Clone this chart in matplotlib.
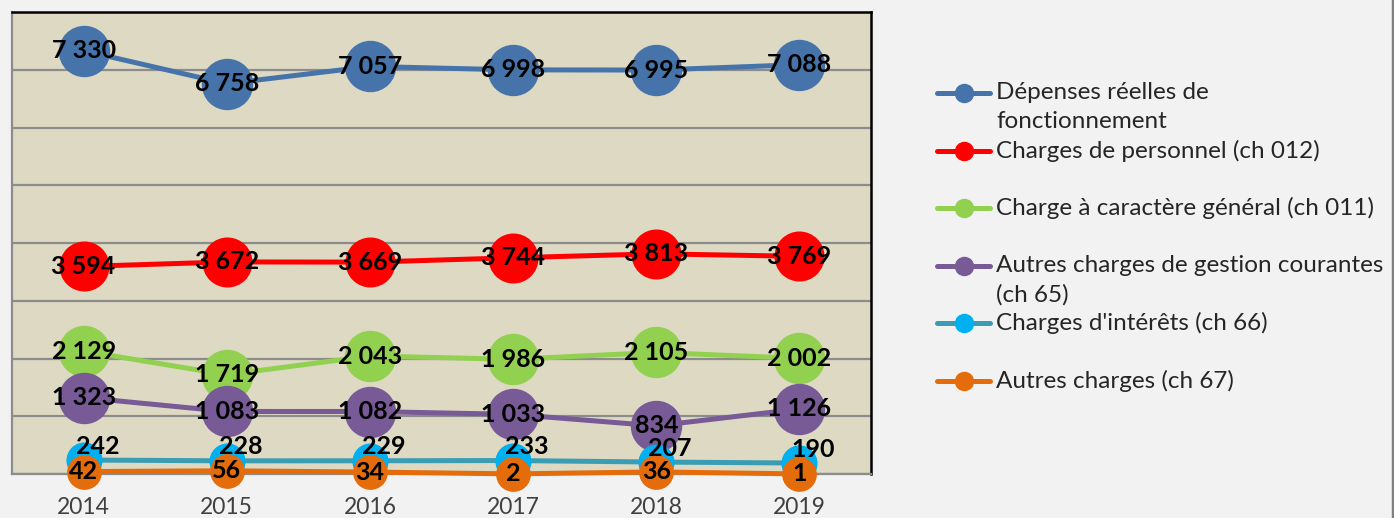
import matplotlib
matplotlib.use('Agg')
import matplotlib.pyplot as plt
from matplotlib.lines import Line2D

plt.rcParams['font.family'] = ['Lato', 'DejaVu Sans']

# données (k€)
years = ['2014', '2015', '2016', '2017', '2018', '2019']
depenses_reelles = [7330, 6758, 7057, 6998, 6995, 7088]
charges_personnel = [3594, 3672, 3669, 3744, 3813, 3769]
charges_generales = [2129, 1719, 2043, 1986, 2105, 2002]
autres_gestion = [1323, 1083, 1082, 1033, 834, 1126]
charges_interets = [242, 228, 229, 233, 207, 190]
autres_charges = [42, 56, 34, 2, 36, 1]

labels = ['Dépenses réelles de\nfonctionnement',
          'Charges de personnel (ch 012)',
          'Charge à caractère général (ch 011)',
          'Autres charges de gestion courantes\n(ch 65)',
          "Charges d'intérêts (ch 66)",
          'Autres charges (ch 67)']

series = [depenses_reelles, charges_personnel, charges_generales,
          autres_gestion, charges_interets, autres_charges]
# (couleur ligne, couleur marqueur, taille marqueur, décalage étiquette en points)
styles = [('#4674AA', '#4674AA', 36, (0, 0)),
          ('#FF0000', '#FF0000', 35, (0, 0)),
          ('#92D050', '#92D050', 36, (0, 0)),
          ('#775A96', '#775A96', 36, (0, 0)),
          ('#3A9DB4', '#00B0F0', 25, (10, 10)),
          ('#E46C0A', '#E46C0A', 24, (0, 0))]


def fmt(v):
    return f'{v:,}'.replace(',', ' ')


fig = plt.figure(figsize=(13.94, 5.18), dpi=100, facecolor='#F2F2F2')
ax = fig.add_axes([12 / 1394, 44 / 518, 859 / 1394, 462 / 518])
ax.set_facecolor('#DDD9C3')

x = list(range(len(years)))
for vals, (lc, mc, ms, off) in zip(series, styles):
    ax.plot(x, vals, color=lc, lw=3.6, marker='o', markersize=ms,
            markerfacecolor=mc, markeredgecolor=mc, clip_on=False, zorder=3)
    for xi, v in zip(x, vals):
        ax.annotate(fmt(v), (xi, v), xytext=off, textcoords='offset points',
                    ha='center', va='center', fontsize=18, fontweight='bold',
                    color='black', zorder=5, annotation_clip=False)

ax.set_xlim(-0.5, 5.5)
ax.set_ylim(0, 8000)
ax.set_yticks(range(0, 8001, 1000))
ax.set_yticklabels([])
ax.set_xticks(x)
ax.set_xticklabels(years, fontsize=16.5, color='#404040')
ax.tick_params(length=0)
ax.tick_params(axis='x', pad=16.5)
ax.grid(axis='y', color='#8C8C8C', lw=1.6)
ax.set_axisbelow(True)
for s in ['left', 'bottom']:
    ax.spines[s].set_color('#8C8C8C')
    ax.spines[s].set_linewidth(1.6)
for s in ['top', 'right']:
    ax.spines[s].set_color('black')
    ax.spines[s].set_linewidth(1.8)

# légende (une entrée tous les ~58 px, texte aligné sur la première ligne)
lax = fig.add_axes([930 / 1394, 0, 460 / 1394, 1])
lax.set_xlim(0, 460)
lax.set_ylim(518, 0)
lax.axis('off')
for i, (lab, (lc, mc, ms, off)) in enumerate(zip(labels, styles)):
    y = 93 + i * 57.6
    lax.plot([7, 60], [y, y], color=lc, lw=3.6, solid_capstyle='round')
    lax.plot([33.5], [y], marker='o', markersize=13, color=mc)
    lax.text(66, y - 11, lab, fontsize=17.5, color='#262626', ha='left',
             va='top', linespacing=1.45)

fig.add_artist(Line2D([1393 / 1394, 1393 / 1394], [0, 1], color='#808080', lw=2.5))

fig.savefig('out.png', dpi=100, facecolor=fig.get_facecolor())
